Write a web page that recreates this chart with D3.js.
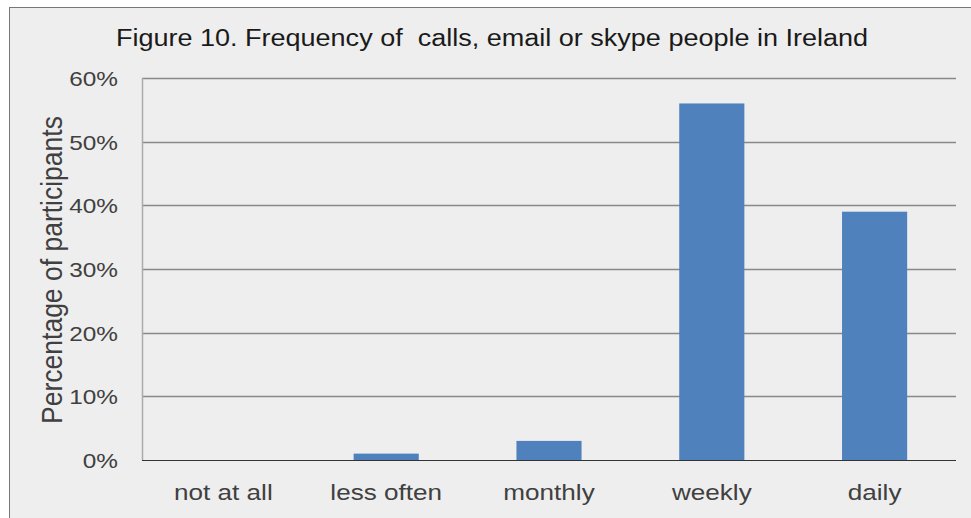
<!DOCTYPE html>
<html><head><meta charset="utf-8">
<script src="https://cdn.jsdelivr.net/npm/d3@7"></script>
<style>html,body{margin:0;padding:0;background:#fff;}svg{display:block;} text{white-space:pre;}</style>
</head><body>
<script>
const categories = ["not at all", "less often", "monthly", "weekly", "daily"];
const values = [0, 1, 3, 56, 39];
const yTicks = [0, 10, 20, 30, 40, 50, 60];
const titleText = "Figure 10. Frequency of  calls, email or skype people in Ireland";
const yLabel = "Percentage of participants";

const W = 971, H = 518;
const SX = 1.16; // horizontal glyph stretch seen in the reference
const svg = d3.select("body").append("svg").attr("width", W).attr("height", H);
const font = "'Liberation Sans', Arial, sans-serif";

svg.append("rect").attr("x", 9.5).attr("y", 7.5).attr("width", W + 20).attr("height", H + 20)
  .attr("fill", "#eeeeee").attr("stroke", "#777").attr("stroke-width", 1);

const plot = {left: 142, right: 956, top: 78, bottom: 460};
const x = d3.scaleBand().domain(categories).range([plot.left, plot.right]).paddingInner(0.6).paddingOuter(0.3);
const y = d3.scaleLinear().domain([0, 60]).range([plot.bottom, plot.top]);

// gridlines
svg.append("g").selectAll("line").data(yTicks.filter(d => d > 0)).join("line")
  .attr("x1", plot.left).attr("x2", plot.right)
  .attr("y1", d => Math.round(y(d)) + 0.5).attr("y2", d => Math.round(y(d)) + 0.5)
  .attr("stroke", "#888").attr("stroke-width", 1.3);

// left axis line
svg.append("line").attr("x1", plot.left + 0.5).attr("x2", plot.left + 0.5)
  .attr("y1", plot.top).attr("y2", plot.bottom).attr("stroke", "#aaa").attr("stroke-width", 1.5);

// bars
svg.append("g").selectAll("rect").data(values).join("rect")
  .attr("x", (d, i) => x(categories[i]))
  .attr("width", x.bandwidth())
  .attr("y", d => y(d))
  .attr("height", d => y(0) - y(d))
  .attr("fill", "#4f81bd");

// baseline
svg.append("line").attr("x1", plot.left).attr("x2", plot.right)
  .attr("y1", plot.bottom + 0.5).attr("y2", plot.bottom + 0.5).attr("stroke", "#333").attr("stroke-width", 1.2);

// y tick labels
const yAxis = d3.axisLeft(y).tickValues(yTicks).tickFormat(d => d + "%").tickSize(0).tickPadding(24);
const gy = svg.append("g").attr("transform", `translate(${plot.left},0)`).call(yAxis);
gy.select(".domain").remove();
gy.selectAll("text").attr("font-family", font).attr("font-size", 21).attr("fill", "#404040")
  .attr("dy", "0.36em").attr("x", -24 / SX).attr("transform", `scale(${SX},1)`);

// x labels
const xAxis = d3.axisBottom(x).tickSize(0).tickPadding(24);
const gx = svg.append("g").attr("transform", `translate(0,${plot.bottom})`).call(xAxis);
gx.select(".domain").remove();
gx.selectAll("text").attr("font-family", font).attr("font-size", 22.5).attr("fill", "#404040")
  .attr("transform", `scale(${SX},1)`);

// title
svg.append("text").attr("transform", `translate(492,46) scale(${SX},1)`).attr("text-anchor", "middle")
  .attr("font-family", font).attr("font-size", 23.3).attr("fill", "#1a1a1a")
  .text(titleText);

// y label
svg.append("text").attr("transform", `translate(62,270) rotate(-90) scale(1,1.08)`).attr("text-anchor", "middle")
  .attr("font-family", font).attr("font-size", 26.5).attr("fill", "#404040")
  .text(yLabel);
</script>
</body></html>
